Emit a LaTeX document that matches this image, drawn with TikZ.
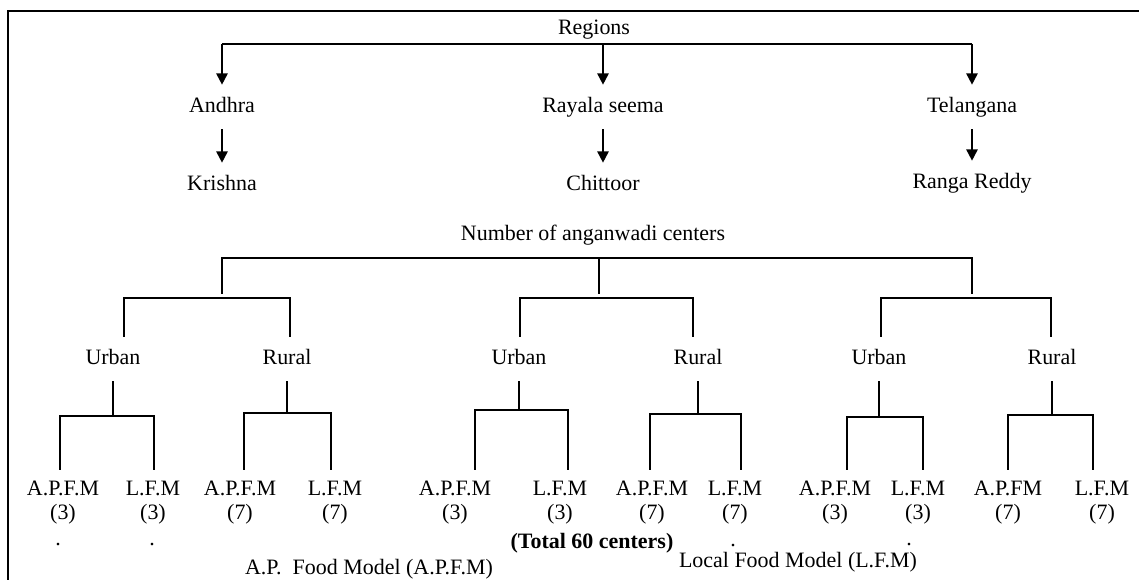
\documentclass[tikz,border=0pt]{standalone}
\usepackage{fontspec}
\setmainfont{Liberation Serif}
\usetikzlibrary{arrows.meta}

\begin{document}
\begin{tikzpicture}[x=0.02cm, y=-0.02cm,
  font=\fontsize{12.5}{13.6}\selectfont,
  lbl/.style={inner xsep=2pt, inner ysep=6.5pt, text height=9pt, text depth=3pt},
  leaf/.style={anchor=north, align=center, inner ysep=6pt},
  link/.style={line width=1pt},
  arr/.style={line width=1pt, -{Triangle[width=6.5pt,length=6.5pt]}}]
\clip (0,0) rectangle (1139,580);

% Frame (cut off at right and bottom)
\draw[line width=1.2pt] (1150,11) -- (8,11) -- (8,590);

% Regions
\node[lbl] (regions) at (594,29) {Regions};
\coordinate (rbar) at (0,44);
\node[lbl] (andhra) at (222,107) {Andhra};
\node[lbl] (rayala) at (603,107) {Rayala seema};
\node[lbl] (telangana) at (972,107) {Telangana};
\node[lbl] (krishna) at (222,185) {Krishna};
\node[lbl] (chittoor) at (603,185) {Chittoor};
\node[lbl] (ranga) at (972,183) {Ranga Reddy};

\draw[link] (andhra |- rbar) -- (telangana |- rbar);
\draw[arr] (andhra |- rbar) -- (andhra.north);
\draw[arr] (rayala |- rbar) -- (rayala.north);
\draw[arr] (telangana |- rbar) -- (telangana.north);
\draw[arr] (andhra) -- (krishna);
\draw[arr] (rayala) -- (chittoor);
\draw[arr] (telangana) -- (ranga);

% Number of centers
\node[lbl] (centers) at (593,235) {Number of anganwadi centers};
\coordinate (cbar) at (0,258);
\coordinate (g1) at (222,294);
\coordinate (g2) at (599,294);
\coordinate (g3) at (972,294);
\draw[link] (g1) -- (g1 |- cbar) -- (g3 |- cbar) -- (g3);
\draw[link] (g2 |- cbar) -- (g2);

% Urban / Rural
\node[lbl] (urban1) at (113,359) {Urban};
\node[lbl] (rural1) at (287,359) {Rural};
\node[lbl] (urban2) at (519,359) {Urban};
\node[lbl] (rural2) at (698,359) {Rural};
\node[lbl] (urban3) at (879,359) {Urban};
\node[lbl] (rural3) at (1052,359) {Rural};

\coordinate (u1) at (124,298); \coordinate (r1) at (290,298);
\coordinate (u2) at (520,298); \coordinate (r2) at (693,298);
\coordinate (u3) at (881,298); \coordinate (r3) at (1051,298);
\draw[link] (u1 |- urban1.north) -- (u1) -- (r1) -- (r1 |- rural1.north);
\draw[link] (u2 |- urban2.north) -- (u2) -- (r2) -- (r2 |- rural2.north);
\draw[link] (u3 |- urban3.north) -- (u3) -- (r3) -- (r3 |- rural3.north);

% Food models
\node[leaf] (a1) at (63,470) {A.P.F.M\\(3)};
\node[leaf] (l1) at (153,470) {L.F.M\\(3)};
\node[leaf] (a2) at (240,470) {A.P.F.M\\(7)};
\node[leaf] (l2) at (335,470) {L.F.M\\(7)};
\node[leaf] (a3) at (455,470) {A.P.F.M\\(3)};
\node[leaf] (l3) at (560,470) {L.F.M\\(3)};
\node[leaf] (a4) at (652,470) {A.P.F.M\\(7)};
\node[leaf] (l4) at (735,470) {L.F.M\\(7)};
\node[leaf] (a5) at (835,470) {A.P.F.M\\(3)};
\node[leaf] (l5) at (918,470) {L.F.M\\(3)};
\node[leaf] (a6) at (1008,470) {A.P.FM\\(7)};
\node[leaf] (l6) at (1102,470) {L.F.M\\(7)};

\coordinate (b1) at (60,416);   \coordinate (c1) at (154,416);
\coordinate (b2) at (244,413);  \coordinate (c2) at (331,413);
\coordinate (b3) at (475,410);  \coordinate (c3) at (568,410);
\coordinate (b4) at (650,414);  \coordinate (c4) at (741,414);
\coordinate (b5) at (847,417);  \coordinate (c5) at (923,417);
\coordinate (b6) at (1008,415); \coordinate (c6) at (1093,415);

\draw[link] (urban1.south) -- (urban1 |- b1);
\draw[link] (rural1.south) -- (rural1 |- b2);
\draw[link] (urban2.south) -- (urban2 |- b3);
\draw[link] (rural2.south) -- (rural2 |- b4);
\draw[link] (urban3.south) -- (urban3 |- b5);
\draw[link] (rural3.south) -- (rural3 |- b6);

\draw[link] (b1 |- a1.north) -- (b1) -- (c1) -- (c1 |- l1.north);
\draw[link] (b2 |- a2.north) -- (b2) -- (c2) -- (c2 |- l2.north);
\draw[link] (b3 |- a3.north) -- (b3) -- (c3) -- (c3 |- l3.north);
\draw[link] (b4 |- a4.north) -- (b4) -- (c4) -- (c4 |- l4.north);
\draw[link] (b5 |- a5.north) -- (b5) -- (c5) -- (c5 |- l5.north);
\draw[link] (b6 |- a6.north) -- (b6) -- (c6) -- (c6 |- l6.north);

% Notes
\node[font=\fontsize{12.5}{13.6}\selectfont\bfseries] (total) at (592,543) {(Total 60 centers)};
\node (apfm) at (369,569) {A.P.~~Food Model (A.P.F.M)};
\node (lfm) at (798,562) {Local Food Model (L.F.M)};
\node (dot1) at (58,545) {.};
\node (dot2) at (152,545) {.};
\node (dot3) at (733,546) {.};
\node (dot4) at (909,545) {.};
\end{tikzpicture}
\end{document}
